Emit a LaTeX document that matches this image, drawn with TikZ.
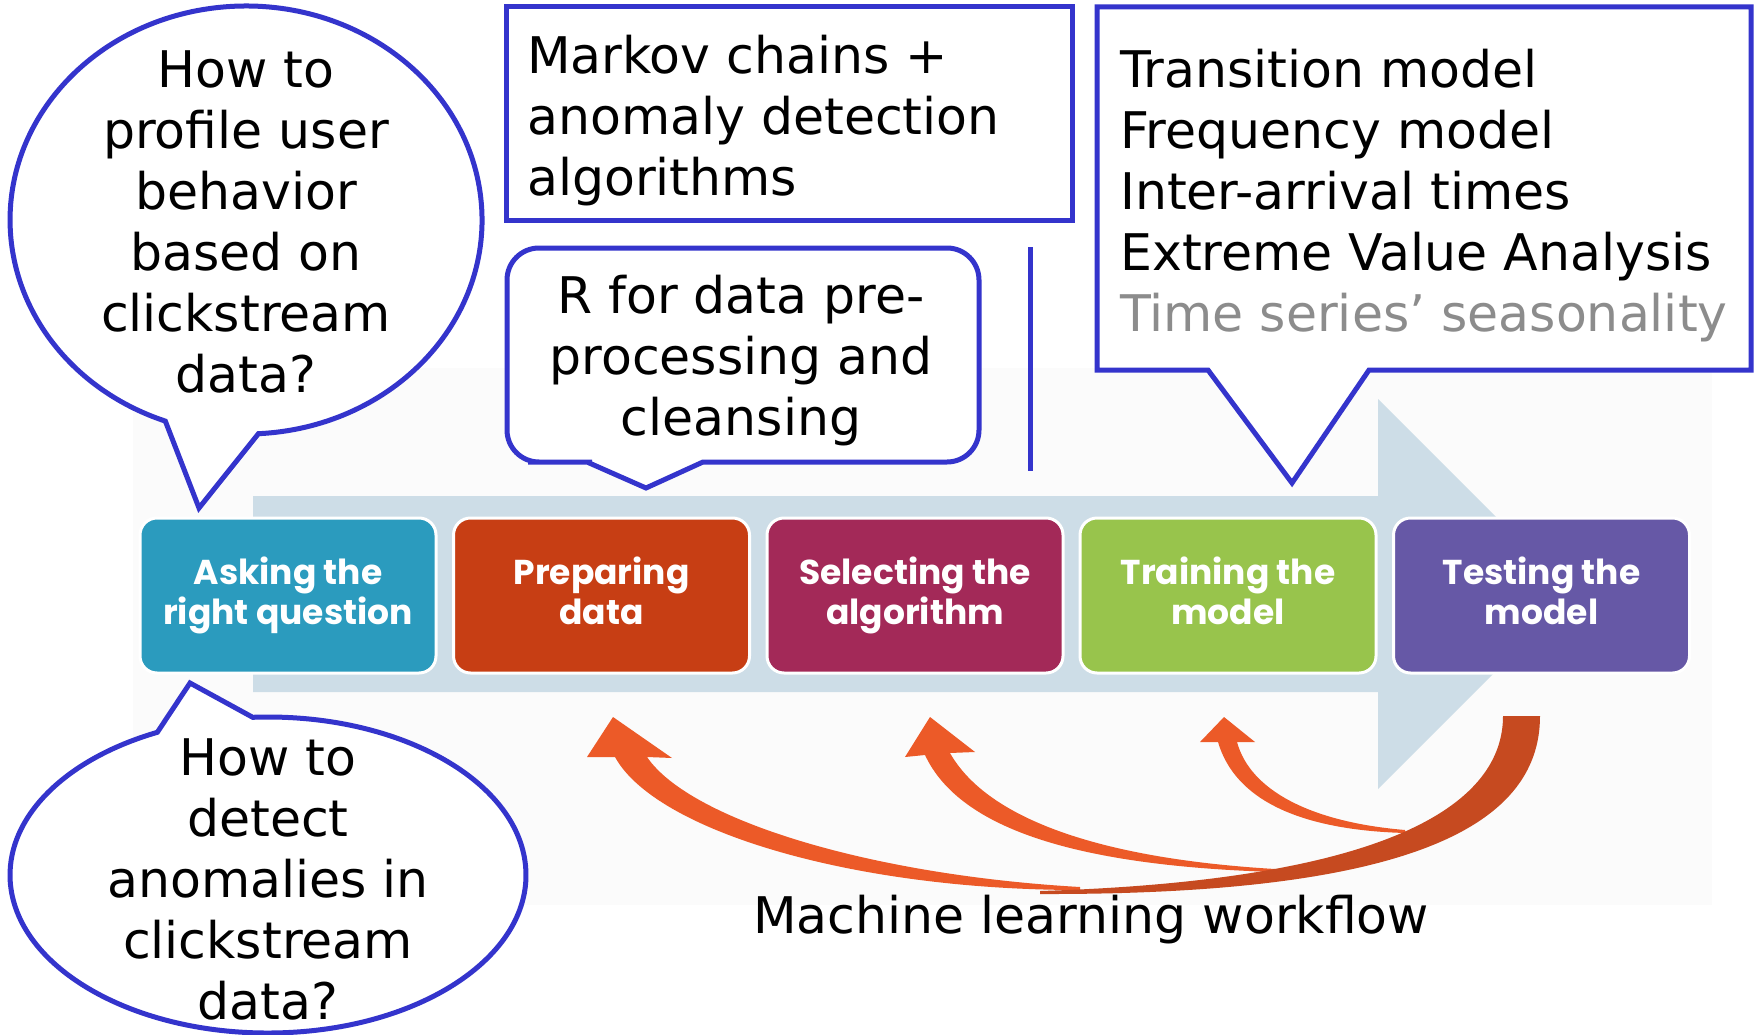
\documentclass[tikz,border=0pt]{standalone}
\usepackage{fontspec}
\setmainfont{DejaVu Sans}
\newfontfamily\wffont{Poppins}
\definecolor{bblue}{RGB}{52,52,204}
\definecolor{cA}{RGB}{43,155,190}
\definecolor{cB}{RGB}{199,62,20}
\definecolor{cC}{RGB}{163,41,88}
\definecolor{cD}{RGB}{152,196,76}
\definecolor{cE}{RGB}{102,88,166}
\definecolor{bandc}{RGB}{205,221,231}
\definecolor{arrowor}{RGB}{236,90,40}
\definecolor{darkor}{RGB}{198,74,32}
\definecolor{tsgray}{RGB}{140,140,140}
\definecolor{faint}{RGB}{251,251,251}
\newcommand\tstrut{\rule{0pt}{45pt}}
\newcommand\dstrut{\vphantom{gq}}
\begin{document}
\begin{tikzpicture}[x=1pt,y=-1pt,
  bubble/.style={draw=bblue, line width=5pt, fill=white, line join=miter},
  txt/.style={inner sep=0pt, font=\fontsize{50.5}{61}\selectfont},
  wfbox/.style={rounded corners=17pt, minimum width=296pt, minimum height=155pt,
    draw=white, line width=3pt, text=white, align=center, inner sep=0pt,
    font=\wffont\bfseries\fontsize{34.5}{40}\selectfont}]
\useasboundingbox (0,0) rectangle (1758,1035);
\fill[white] (0,0) rectangle (1758,1035);
\fill[faint] (133,368) rectangle (1712,905);
% big light arrow band
\fill[bandc] (253,496) -- (1378,496) -- (1378,399) -- (1573,594) -- (1378,789) -- (1378,692) -- (253,692) -- cycle;
% workflow boxes
\node[wfbox, fill=cA] (b1) at (288,595.5) {Asking the\\right question};
\node[wfbox, fill=cB] (b2) at (601.5,595.5) {Preparing\\data\dstrut};
\node[wfbox, fill=cC] (b3) at (915,595.5) {Selecting the\\algorithm};
\node[wfbox, fill=cD] (b4) at (1228,595.5) {Training the\\model\dstrut};
\node[wfbox, fill=cE] (b5) at (1541.5,595.5) {Testing the\\model\dstrut};
% return arrows
\fill[arrowor] (587,757) -- (613,717) -- (672,758) -- (647,757)
  .. controls (690,820) and (870,875) .. (1080,887) -- (1080,890)
  .. controls (850,890) and (655,830) .. (615,757) -- cycle;
\fill[arrowor] (905,757) -- (930,717) -- (975,752) -- (950,753)
  .. controls (985,815) and (1090,858) .. (1275,869) -- (1275,872)
  .. controls (1080,866) and (960,830) .. (925,755) -- cycle;
\fill[arrowor] (1200,742) -- (1224,717) -- (1255,742) -- (1237,742)
  .. controls (1250,790) and (1310,822) .. (1405,830) -- (1405,833)
  .. controls (1300,830) and (1235,800) .. (1218,742) -- cycle;
\fill[darkor] (1503,716) -- (1540,716) .. controls (1540,830) and (1400,895) .. (1040,894)
  -- (1040,891) .. controls (1400,880) and (1503,800) .. (1503,716) -- cycle;
% callouts
\draw[bubble] (258.4,433.7) arc[start angle=87, end angle=-250, x radius=236, y radius=214] -- (199,508) -- cycle;
\draw[bubble] (252.7,717.3) arc[start angle=-93.4, end angle=244.6, x radius=258, y radius=158] -- (190,683) -- cycle;
\draw[bubble] (506,7) rectangle (1072,220);
\draw[bubble] (646,488) -- (703,462) -- (720,462) [rounded corners=32pt] -- (979,462) -- (979,248)
  -- (507,248) -- (507,462) -- (560,462) [sharp corners] -- (587,462) -- cycle;
\draw[bubble] (1097,7) -- (1751,7) -- (1751,370) -- (1369,370) -- (1292,483) -- (1208,370) -- (1097,370) -- cycle;
\coordinate (vl1) at (1030,247);
\coordinate (vl2) at (1030,471);
\draw[bblue, line width=5pt] (vl1) -- (vl2);
% texts
\node[txt, anchor=north, align=center] (q1) at (246,42) {\tstrut How to\\profile user\\behavior\\based on\\clickstream\\data?};
\node[txt, anchor=north west, align=left] (markov) at (527,28) {\tstrut Markov chains +\\anomaly detection\\algorithms};
\node[txt, anchor=north, align=center] (rtext) at (741,268) {\tstrut R for data pre-\\processing and\\cleansing};
\node[txt, anchor=north west, align=left] (models) at (1120,42) {\tstrut Transition model\\Frequency model\\Inter-arrival times\\Extreme Value Analysis\\\textcolor{tsgray}{Time series’ seasonality}};
\node[txt, anchor=north, align=center] (q2) at (268,730) {\tstrut How to\\detect\\anomalies in\\clickstream\\data?};
\node[txt, anchor=base west] (wf) at (753,933) {Machine learning workflow};
\end{tikzpicture}
\end{document}
